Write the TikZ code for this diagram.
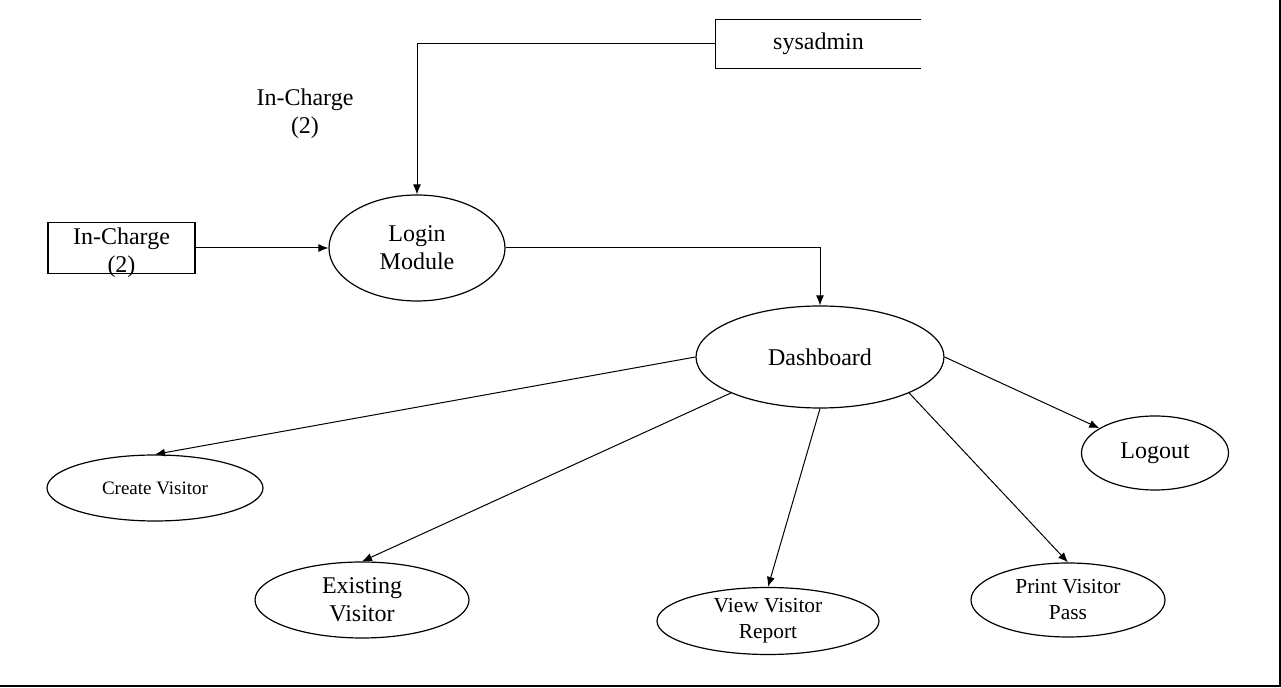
\documentclass[tikz,border=0pt]{standalone}
\usepackage{fontspec}
\setmainfont{Liberation Serif}
\usetikzlibrary{shapes.geometric,arrows.meta}

\tikzset{
  proc/.style={draw, ellipse, inner sep=0pt, align=center, line width=0.6pt},
  flow/.style={-{Latex[length=5pt,width=4pt]}, line width=0.5pt},
  big/.style={font=\fontsize{12}{14}\selectfont},
  small/.style={font=\fontsize{10.7}{13}\selectfont},
}

\begin{document}
\begin{tikzpicture}[x=0.5pt,y=-0.5pt,big]
  \useasboundingbox (0,0) rectangle (1281,688);
  % Frame.
  \draw [line width=1pt] (0,686.5) -- (1280,686.5) -- (1280,0);

  % Sources.
  \node [draw, line width=0.8pt, minimum width=73.5pt, minimum height=25.5pt,
         inner sep=0pt, align=center] (incharge) at (121.5,248)
        {\raisebox{-2.5pt}[\height][\depth]{In-Charge}\\\raisebox{-2.5pt}[\height][\depth]{(2)}};
  \node [minimum width=102.5pt, minimum height=24pt, inner sep=0pt] (sysadmin) at (818.5,44) {sysadmin};
  \draw [line width=0.5pt] (sysadmin.north east) -- (sysadmin.north west)
        -- (sysadmin.south west) -- (sysadmin.south east);
  \node [align=center] (lbl) at (305,114) {In-Charge\\(2)};

  % Processes.
  \node [proc, minimum width=88pt, minimum height=53pt]   (login)  at (417,248) {Login\\Module};
  \node [proc, minimum width=124pt, minimum height=51pt]  (dash)   at (820,357) {Dashboard};
  \node [proc, minimum width=108pt, minimum height=33pt,
         font=\fontsize{9.5}{11}\selectfont]              (create) at (155,488) {Create Visitor};
  \node [proc, minimum width=107pt, minimum height=38pt]  (exist)  at (362,600) {Existing\\Visitor};
  \node [proc, small, minimum width=111pt, minimum height=33.5pt] (report) at (768,621) {View Visitor\\Report};
  \node [proc, small, minimum width=97pt, minimum height=37pt]    (pass)   at (1068,600) {Print Visitor\\Pass};
  \node [proc, minimum width=73.5pt, minimum height=37pt] (logout) at (1155,453) {Logout};

  % Flows.
  \draw [flow] (sysadmin.west) -| (login.north);
  \draw [flow] (incharge.east) -- (login.west);
  \draw [flow] (login.east) -| (dash.north);
  \draw [flow] (dash.west) -- (create.north);
  \draw [flow] (dash.202) -- (exist.north);
  \draw [flow] (dash.south) -- (report.north);
  \draw [flow] (dash.338) -- (pass.north);
  \draw [flow] (dash.east) -- (logout.156);
\end{tikzpicture}
\end{document}
